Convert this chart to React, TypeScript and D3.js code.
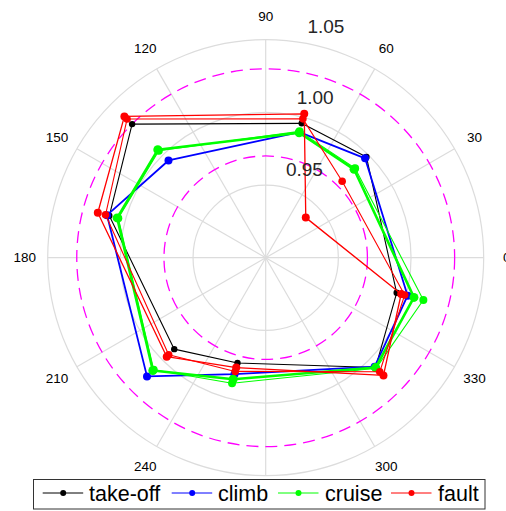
import { lineRadial, curveLinearClosed, scaleLinear } from "d3";

// sensor angles (degrees) and normalised readings per flight phase
const angles = [45, 75, 135, 165, 225, 255, 315, 345];
const takeOff = [0.998, 0.9957, 1.03, 1.0114, 0.989, 0.975, 1.0069, 0.9933];
const climb = [0.9967, 0.9895, 0.9946, 1.013, 1.0155, 0.983, 1.006, 1.0011];
const cruiseA = [0.986, 0.989, 1.005, 1.0058, 1.0098, 0.9866, 1.0069, 1.0056];
const cruiseB = [0.987, 0.99, 1.004, 1.005, 1.009, 0.9894, 1.0075, 1.0123];
const faultA = [0.9744, 0.9989, 1.0349, 1.0141, 0.9944, 0.981, 1.011, 0.999];
const faultB = [0.939, 1.0025, 1.0375, 1.0196, 0.9963, 0.9783, 1.0146, 0.9965];

const radialTicks = [0.95, 1.0, 1.05];
const thresholds = [0.97, 1.03];
const angleTicks = [0, 30, 60, 90, 120, 150, 180, 210, 240, 270, 300, 330];
// 270 sits under the legend in the original, so it is left out
const angleLabels = ["0", "30", "60", "90", "120", "150", "180", "210", "240", "", "300", "330"];

const legendNames = ["take-off", "climb", "cruise", "fault"];
const legendColors = ["#000000", "#0000ff", "#00ff00", "#ff0000"];

const W = 506;
const H = 511;
const cx = 265.7;
const cy = 257.7;
const R = 218;
const font = "Arial, 'Liberation Sans', sans-serif";

const r = scaleLinear().domain([0.9, 1.05]).range([0, R]);
const rad = (deg: number) => (deg * Math.PI) / 180;
const px = (deg: number, rr: number) => cx + rr * Math.cos(rad(deg));
const py = (deg: number, rr: number) => cy - rr * Math.sin(rad(deg));

const polar = lineRadial<number>()
  .angle((_, i) => rad(90 - angles[i]))
  .radius((d) => r(d))
  .curve(curveLinearClosed);

interface SeriesProps {
  values: number[];
  color: string;
  width: number;
  dot: number;
}

function Series({ values, color, width, dot }: SeriesProps) {
  return (
    <g>
      <path
        d={polar(values) ?? ""}
        transform={`translate(${cx},${cy})`}
        fill="none"
        stroke={color}
        strokeWidth={width}
        strokeLinejoin="round"
      />
      {values.map((v, i) => (
        <circle key={i} cx={px(angles[i], r(v))} cy={py(angles[i], r(v))} r={dot} fill={color} />
      ))}
    </g>
  );
}

function Legend() {
  const lineStarts = [42.7, 171.7, 278, 391];
  const textStarts = [89, 218, 325, 438];
  const y = 493;
  return (
    <g>
      <rect x={33.5} y={479.5} width={451.5} height={29.5} fill="white" stroke="#333" strokeWidth={1} />
      {legendNames.map((name, i) => (
        <g key={name}>
          <line x1={lineStarts[i]} x2={lineStarts[i] + 40.5} y1={y} y2={y} stroke={legendColors[i]} strokeWidth={1} />
          <circle cx={lineStarts[i] + 20.5} cy={y} r={3} fill={legendColors[i]} />
          <text x={textStarts[i]} y={501} fontSize={21.5} fontFamily={font} fill="#000">
            {name}
          </text>
        </g>
      ))}
    </g>
  );
}

export default function App() {
  const labelAngle = 81.5;
  return (
    <svg
      width={W}
      height={H}
      style={{ position: "absolute", left: 0, top: 0, background: "white" }}
    >
      <rect width={W} height={H} fill="white" />
      {/* grid */}
      {angleTicks.map((a) => (
        <line key={a} x1={cx} y1={cy} x2={px(a, R)} y2={py(a, R)} stroke="#dcdcdc" strokeWidth={1.2} />
      ))}
      {radialTicks.map((t) => (
        <circle key={t} cx={cx} cy={cy} r={r(t)} fill="none" stroke="#dcdcdc" strokeWidth={1.2} />
      ))}
      {thresholds.map((t) => (
        <circle
          key={t}
          cx={cx}
          cy={cy}
          r={r(t)}
          fill="none"
          stroke="#ff00ff"
          strokeWidth={1.3}
          strokeDasharray="12,7"
        />
      ))}
      {/* angle labels */}
      {angleTicks.map((a, i) =>
        angleLabels[i] ? (
          <text
            key={a}
            x={px(a, 241)}
            y={py(a, 241)}
            fontSize={13.5}
            fontFamily={font}
            textAnchor="middle"
            dominantBaseline="central"
            fill="#000"
          >
            {angleLabels[i]}
          </text>
        ) : null
      )}
      {/* series */}
      <Series values={takeOff} color="#000000" width={1.1} dot={3.2} />
      <Series values={climb} color="#0000ff" width={1.8} dot={4} />
      <Series values={cruiseB} color="#00ff00" width={1.1} dot={4} />
      <Series values={cruiseA} color="#00ff00" width={2.6} dot={4.5} />
      <Series values={faultA} color="#ff0000" width={1.1} dot={3.8} />
      <Series values={faultB} color="#ff0000" width={1.3} dot={4} />
      {/* radial tick labels */}
      {radialTicks.map((t) => (
        <text
          key={t}
          x={px(labelAngle, r(t)) + 28}
          y={py(labelAngle, r(t)) - 16}
          fontSize={19}
          fontFamily={font}
          textAnchor="middle"
          dominantBaseline="central"
          fill="#262626"
        >
          {t.toFixed(2)}
        </text>
      ))}
      <Legend />
    </svg>
  );
}
